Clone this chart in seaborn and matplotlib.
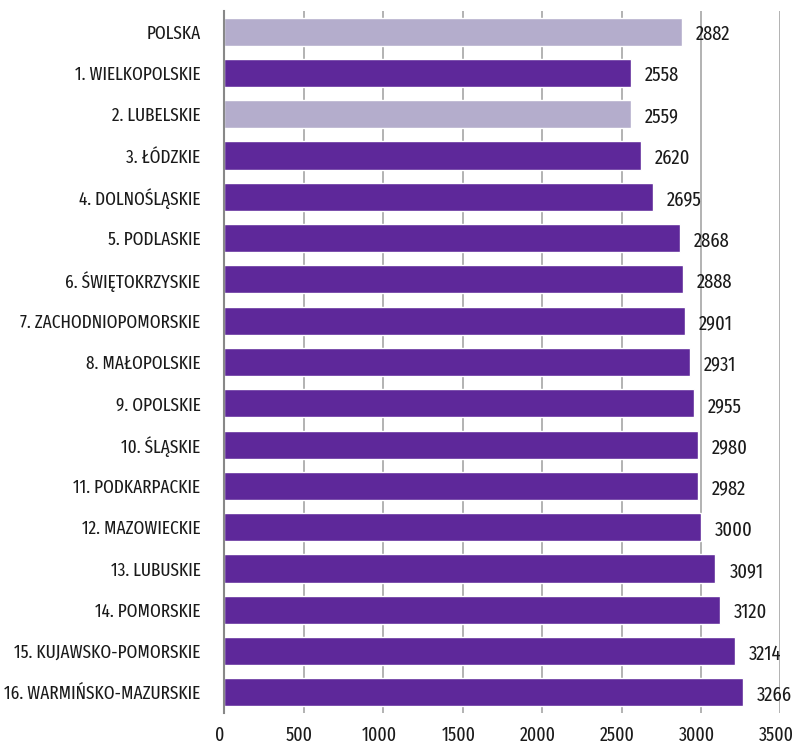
import matplotlib
matplotlib.use("Agg")
import matplotlib.pyplot as plt
from matplotlib.transforms import ScaledTranslation
import seaborn as sns
import pandas as pd

regions = ["POLSKA", "1. WIELKOPOLSKIE", "2. LUBELSKIE", "3. ŁÓDZKIE", "4. DOLNOŚLĄSKIE",
           "5. PODLASKIE", "6. ŚWIĘTOKRZYSKIE", "7. ZACHODNIOPOMORSKIE", "8. MAŁOPOLSKIE",
           "9. OPOLSKIE", "10. ŚLĄSKIE", "11. PODKARPACKIE", "12. MAZOWIECKIE",
           "13. LUBUSKIE", "14. POMORSKIE", "15. KUJAWSKO-POMORSKIE", "16. WARMIŃSKO-MAZURSKIE"]
values = [2882, 2558, 2559, 2620, 2695, 2868, 2888, 2901, 2931, 2955, 2980, 2982,
          3000, 3091, 3120, 3214, 3266]
highlight = ["POLSKA", "2. LUBELSKIE"]

dark = "#5E289A"
light = "#B4ADCC"
palette = {r: (light if r in highlight else dark) for r in regions}

df = pd.DataFrame({"region": regions, "value": values})

sns.set_style("white")
plt.rcParams["font.family"] = ["Fira Sans Extra Condensed", "DejaVu Sans"]

fig = plt.figure(figsize=(7.95, 7.44), dpi=100)
ax = fig.add_axes([224 / 795, 31 / 744, 556.5 / 795, 702 / 744])

sns.barplot(data=df, x="value", y="region", hue="region", palette=palette,
            width=0.68, legend=False, ax=ax, saturation=1)

for i, v in enumerate(values):
    ax.annotate(str(v), (v, i), xytext=(10, -2), textcoords="offset points",
                ha="left", va="center", fontsize=14.5, color="#1a1a1a")

ax.set_xlim(0, 3500)
ax.set_xticks(range(0, 3501, 500))
ax.set_ylim(len(regions) - 0.5, -0.5)
ax.xaxis.grid(True, color="#a6a6a6", linewidth=1.2)
ax.set_axisbelow(True)
ax.set_xlabel("")
ax.set_ylabel("")
for s in ["top", "right", "bottom"]:
    ax.spines[s].set_visible(False)
ax.spines["left"].set_color("#888888")
ax.spines["left"].set_linewidth(1.5)
ax.tick_params(axis="x", length=0, pad=9, labelsize=14, colors="#1a1a1a")
ax.tick_params(axis="y", length=0, pad=17, labelsize=13.5, colors="#1a1a1a")

# x labels sit a few pixels left of their gridlines in the original
shift = ScaledTranslation(-4 / 100, 0, fig.dpi_scale_trans)
for lbl in ax.get_xticklabels():
    lbl.set_transform(lbl.get_transform() + shift)

fig.savefig("out.png", dpi=100)
